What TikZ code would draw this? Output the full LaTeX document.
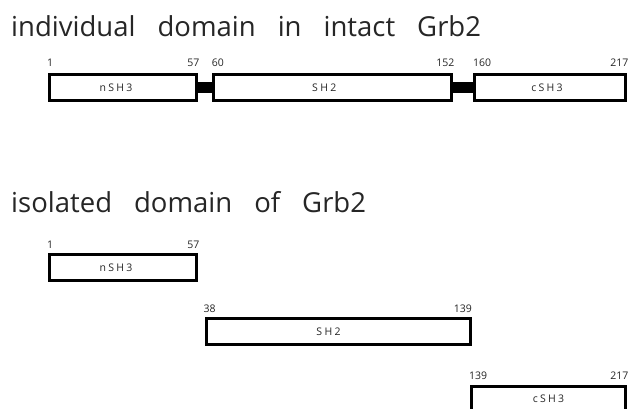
\documentclass[tikz,border=0pt]{standalone}
\usepackage{fontspec}
\setmainfont{Open Sans}
\begin{document}
\begin{tikzpicture}[x=1pt,y=-1pt,
  title/.style={anchor=base west,inner sep=0pt,text=black!85,font=\fontsize{27.5}{31}\selectfont},
  dom/.style={draw=black,line width=3pt,fill=white,inner sep=0pt,text=black!85,
     font=\fontsize{10.5}{12}\selectfont\addfontfeature{LetterSpace=22}},
  num/.style={inner sep=0pt,text=black!85,font=\fontsize{10.5}{12}\selectfont},
  linker/.style={line width=11.5pt,black}]
\clip (0,0) rectangle (629,408);
\useasboundingbox (0,0) rectangle (629,408);
% titles
\node[title] (t1) at (11,36) {individual\hspace{22pt}domain\hspace{22pt}in\hspace{22pt}intact\hspace{22pt}Grb2};
\node[title] (t2) at (11,212) {isolated\hspace{22pt}domain\hspace{22pt}of\hspace{22pt}Grb2};
% top row
\node[dom,minimum width=147pt,minimum height=25.5pt] (n1) at (123,87.3) {\hspace*{-14pt}nSH3};
\node[dom,minimum width=238.5pt,minimum height=25.5pt] (s1) at (332.3,87.3) {\hspace*{-16pt}SH2};
\node[dom,minimum width=151pt,minimum height=25.5pt] (c1) at (550,87.3) {\hspace*{-6pt}cSH3};
\draw[linker] (n1.east) -- (s1.west);
\draw[linker] (s1.east) -- (c1.west);
\node[num,anchor=base west] at ([xshift=-1pt,yshift=6.5pt]n1.north west) {1};
\node[num,anchor=base east] at ([xshift=1.5pt,yshift=6.5pt]n1.north east) {57};
\node[num,anchor=base west] at ([xshift=0pt,yshift=6.5pt]s1.north west) {60};
\node[num,anchor=base east] at ([xshift=1.5pt,yshift=6.5pt]s1.north east) {152};
\node[num,anchor=base west] at ([xshift=0pt,yshift=6.5pt]c1.north west) {160};
\node[num,anchor=base east] at ([xshift=1.5pt,yshift=6.5pt]c1.north east) {217};
% bottom rows
\node[dom,minimum width=147pt,minimum height=25.7pt] (n2) at (123,267.4) {\hspace*{-14pt}nSH3};
\node[dom,minimum width=264pt,minimum height=25.5pt] (s2) at (338.5,331.3) {\hspace*{-20pt}SH2};
\node[dom,minimum width=154pt,minimum height=25.5pt] (c2) at (548.5,399) {cSH3};
\node[num,anchor=base west] at ([xshift=-1pt,yshift=5pt]n2.north west) {1};
\node[num,anchor=base east] at ([xshift=1.5pt,yshift=5pt]n2.north east) {57};
\node[num,anchor=base west] at ([xshift=-1.5pt,yshift=5pt]s2.north west) {38};
\node[num,anchor=base east] at ([xshift=0pt,yshift=5pt]s2.north east) {139};
\node[num,anchor=base west] at ([xshift=-1pt,yshift=5pt]c2.north west) {139};
\node[num,anchor=base east] at ([xshift=1.5pt,yshift=5pt]c2.north east) {217};
\end{tikzpicture}
\end{document}
